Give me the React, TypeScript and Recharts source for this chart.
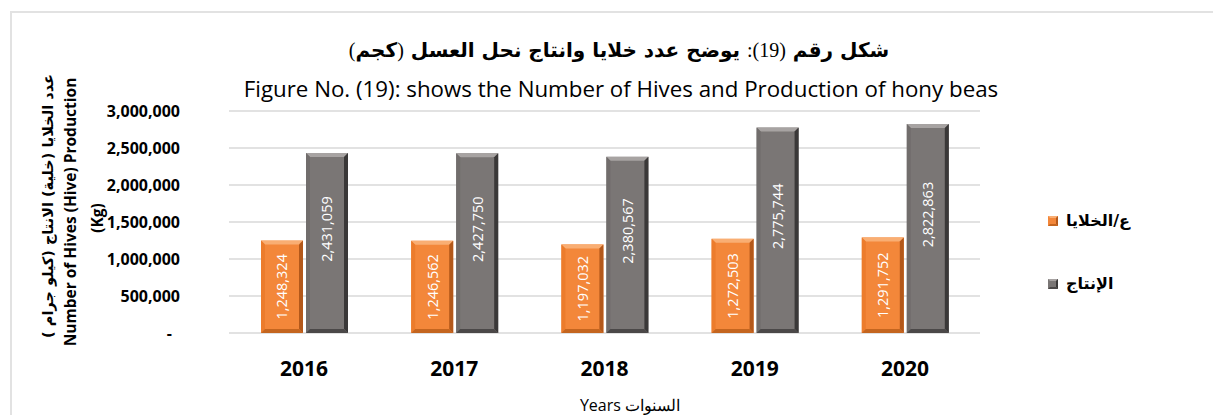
import React from "react";
import { Bar, BarChart, CartesianGrid, LabelList, XAxis, YAxis } from "recharts";

const years = ["2016", "2017", "2018", "2019", "2020"];
const hives = [1248324, 1246562, 1197032, 1272503, 1291752];
const production = [2431059, 2427750, 2380567, 2775744, 2822863];
const yTicks = [0, 500000, 1000000, 1500000, 2000000, 2500000, 3000000];

const hivesName = "ع/الخلايا";
const productionName = "الإنتاج";

const rows = years.map((year, i) => ({ year, hives: hives[i], production: production[i] }));

const ORANGE = { face: "#F3873A", top: "#F9AE73", left: "#EC7C2C", right: "#B3581A", bottom: "#C4651F" };
const GRAY = { face: "#7A7675", top: "#A7A3A2", left: "#716D6C", right: "#3A3838", bottom: "#4B4848" };

const fmt = (n: number) => n.toLocaleString("en-US");

function bevelShape(c: typeof ORANGE) {
  return (props: any) => {
    const { x, y, width: w, height: h } = props;
    if (!h || h <= 0) return <g />;
    const b = 4;
    return (
      <g>
        <rect x={x} y={y} width={w} height={h} fill={c.face} />
        <polygon points={`${x},${y} ${x + w},${y} ${x + w - b},${y + b} ${x + b},${y + b}`} fill={c.top} />
        <polygon points={`${x},${y} ${x + b},${y + b} ${x + b},${y + h - b} ${x},${y + h}`} fill={c.left} />
        <polygon points={`${x + w},${y} ${x + w},${y + h} ${x + w - b},${y + h - b} ${x + w - b},${y + b}`} fill={c.right} />
        <polygon points={`${x},${y + h} ${x + w},${y + h} ${x + w - b},${y + h - b} ${x + b},${y + h - b}`} fill={c.bottom} />
      </g>
    );
  };
}

function barLabel(shift: number) {
  return (props: any) => {
    const { x, y, width, height, value } = props;
    const cx = x + width / 2;
    const cy = y + height / 2 + shift;
    return (
      <text
        x={cx}
        y={cy}
        transform={`rotate(-90 ${cx} ${cy})`}
        textAnchor="middle"
        dominantBaseline="central"
        fill="#fff"
        fontSize={14.5}
        fontFamily="'Open Sans', sans-serif"
      >
        {fmt(value)}
      </text>
    );
  };
}

function YTick(props: any) {
  const { x, y, payload } = props;
  const v = payload.value as number;
  return (
    <text
      x={v === 0 ? x - 8 : x}
      y={y}
      dy="0.355em"
      textAnchor="end"
      fontSize={16}
      fontWeight="bold"
      fill="#000"
      fontFamily="'Open Sans', sans-serif"
    >
      {v === 0 ? "-" : fmt(v)}
    </text>
  );
}

function LegendBox() {
  const items = [
    { name: hivesName, c: ORANGE },
    { name: productionName, c: GRAY },
  ];
  return (
    <div style={{ display: "flex", flexDirection: "column", gap: 44 }}>
      {items.map((it) => (
        <div key={it.name} style={{ display: "flex", alignItems: "center", gap: 8 }}>
          <svg width={10} height={10}>
            <rect x={0} y={0} width={10} height={10} fill={it.c.face} />
            <polygon points="0,0 10,0 8,2 2,2" fill={it.c.top} />
            <polygon points="10,0 10,10 8,8 8,2" fill={it.c.right} />
            <polygon points="0,10 10,10 8,8 2,8" fill={it.c.bottom} />
          </svg>
          <span
            style={{
              fontFamily: "'DejaVu Sans', sans-serif",
              fontWeight: "bold",
              fontSize: 16,
              color: "#000",
              direction: "rtl",
            }}
          >
            {it.name}
          </span>
        </div>
      ))}
    </div>
  );
}

export default function App() {
  return (
    <div style={{ position: "relative", width: 1213, height: 407, overflow: "hidden", background: "#fff" }}>
      <div
        style={{
          position: "absolute",
          left: 2,
          top: 3,
          right: -4,
          bottom: -4,
          borderTop: "2px solid #E2E2E2",
          borderLeft: "2px solid #E2E2E2",
        }}
      />
      <BarChart
        width={1213}
        height={407}
        data={rows}
        margin={{ top: 103, right: 241, bottom: 52, left: 101 }}
        barSize={42}
        barGap={3}
      >
        <CartesianGrid vertical={false} stroke="#D9D9D9" strokeWidth={1.5} />
        <XAxis
          dataKey="year"
          axisLine={false}
          tickLine={false}
          tickMargin={22}
          height={30}
          tick={{ fontSize: 21, fontWeight: "bold", fill: "#000", fontFamily: "'Open Sans', sans-serif" }}
        />
        <YAxis
          width={120}
          domain={[0, 3000000]}
          ticks={yTicks}
          interval={0}
          axisLine={false}
          tickLine={false}
          tickMargin={43}
          tick={<YTick />}
        />
        <Bar dataKey="hives" name={hivesName} fill={ORANGE.face} shape={bevelShape(ORANGE)} isAnimationActive={false}>
          <LabelList dataKey="hives" content={barLabel(0)} />
        </Bar>
        <Bar dataKey="production" name={productionName} fill={GRAY.face} shape={bevelShape(GRAY)} isAnimationActive={false}>
          <LabelList dataKey="production" content={barLabel(-14)} />
        </Bar>
      </BarChart>

      <div style={{ position: "absolute", left: 1040, top: 203 }}>
        <LegendBox />
      </div>

      <svg
        width={1213}
        height={407}
        style={{ position: "absolute", left: 0, top: 0, pointerEvents: "none" }}
      >
        <text
          x={611}
          y={42}
          textAnchor="middle"
          dominantBaseline="central"
          direction="rtl"
          fontFamily="'DejaVu Sans', sans-serif"
          fontWeight="bold"
          fontSize={20}
          fill="#000"
        >
          شكل رقم <tspan fontFamily="'Liberation Serif', serif" fontWeight="normal">(19):</tspan> يوضح عدد خلايا وانتاج نحل العسل <tspan fontFamily="'Liberation Serif', serif" fontWeight="normal">(</tspan>كجم<tspan fontFamily="'Liberation Serif', serif" fontWeight="normal">)</tspan>
        </text>
        <text
          x={613}
          y={80}
          textAnchor="middle"
          dominantBaseline="central"
          fontFamily="'Open Sans', sans-serif"
          fontSize={22.3}
          fill="#000"
        >
          Figure No. (19): shows the Number of Hives and Production of hony beas
        </text>
        <g fontFamily="'Open Sans', sans-serif" fontWeight="bold" fontSize={15.5} fill="#000">
          <text
            x={40}
            y={198}
            transform="rotate(-90 40 198)"
            textAnchor="middle"
            dominantBaseline="central"
            direction="rtl"
            fontFamily="'DejaVu Sans', sans-serif"
            fontWeight="bold"
            fontSize={14.5}
          >
            عدد الخلايا (خلية) الانتاج (كيلو جرام )
          </text>
          <text x={62} y={204} transform="rotate(-90 62 204)" textAnchor="middle" dominantBaseline="central">
            Number of Hives (Hive)  Production
          </text>
          <text x={89} y={210} transform="rotate(-90 89 210)" textAnchor="middle" dominantBaseline="central">
            (Kg)
          </text>
        </g>
        <text
          x={622}
          y={397}
          textAnchor="middle"
          dominantBaseline="central"
          fontFamily="'Open Sans', sans-serif"
          fontSize={16}
          fill="#000"
        >
          Years السنوات
        </text>
      </svg>
    </div>
  );
}
